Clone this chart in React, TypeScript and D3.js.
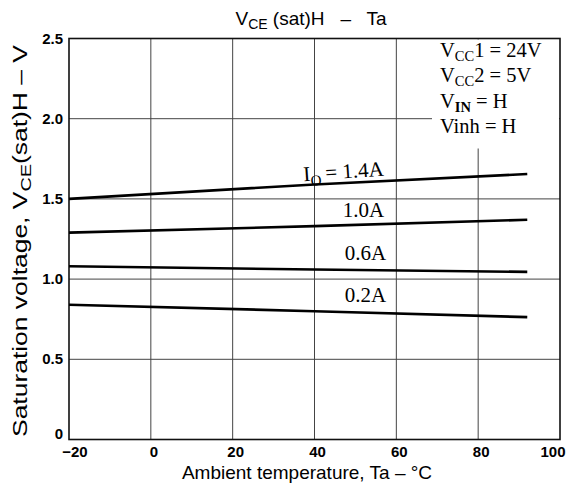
import React from "react";
import * as d3 from "d3";

const xTicks = [-20, 0, 20, 40, 60, 80, 100];
const yTicks = [0, 0.5, 1.0, 1.5, 2.0, 2.5];
const yTickLabels = ["0", "0.5", "1.0", "1.5", "2.0", "2.5"];

const temps = [-20, 40, 92];
const s14 = [1.5, 1.59, 1.655];
const s10 = [1.29, 1.33, 1.37];
const s06 = [1.08, 1.06, 1.045];
const s02 = [0.84, 0.8, 0.763];

const seriesLabels = ["1.4A", "1.0A", "0.6A", "0.2A"];
const labelAt = [
  { t: 57, v: 1.645 },
  { t: 57, v: 1.39 },
  { t: 57.5, v: 1.12 },
  { t: 57.5, v: 0.855 },
];

const legendLines = [
  { main: "V", sub: "CC", rest: "1 = 24V", bold: false },
  { main: "V", sub: "CC", rest: "2 = 5V", bold: false },
  { main: "V", sub: "IN", rest: " = H", bold: true },
  { main: "Vinh", sub: "", rest: " = H", bold: false },
];

export default function App() {
  const left = 69,
    right = 560,
    top = 38.5,
    bottom = 439.5;
  const x = d3.scaleLinear().domain([-20, 100]).range([left, right]);
  const y = d3.scaleLinear().domain([0, 2.5]).range([bottom, top]);
  const series = [s14, s10, s06, s02];
  const line = d3
    .line<number>()
    .x((_, i) => x(temps[i]))
    .y((d) => y(d));

  const sans = "'Liberation Sans', Arial, Helvetica, sans-serif";
  const serif = "'Liberation Serif', 'Times New Roman', serif";

  return (
    <div style={{ position: "absolute", left: 0, top: 0 }}>
      <svg width={573} height={488} style={{ display: "block", background: "#fff" }}>
        <rect width={573} height={488} fill="#fff" />
        {/* grid */}
        {xTicks.slice(1, -1).map((t) => (
          <line key={"gx" + t} x1={x(t)} x2={x(t)} y1={top} y2={bottom} stroke="#444" strokeWidth={1} />
        ))}
        {yTicks.slice(1, -1).map((v) => (
          <line key={"gy" + v} x1={left} x2={right} y1={y(v)} y2={y(v)} stroke="#444" strokeWidth={1} />
        ))}
        {/* legend box background */}
        <rect x={432} y={top + 1} width={right - 433} height={109} fill="#fff" />
        {/* frame */}
        <rect x={left} y={top} width={right - left} height={bottom - top} fill="none" stroke="#111" strokeWidth={1.6} />
        {/* series */}
        {series.map((s, i) => (
          <path key={"s" + i} d={line(s) || ""} fill="none" stroke="#000" strokeWidth={2.6} />
        ))}
        {/* series labels */}
        {seriesLabels.map((lab, i) =>
          i === 0 ? (
            <text
              key={"l" + i}
              x={x(labelAt[i].t)}
              y={y(labelAt[i].v)}
              fontFamily={serif}
              fontSize={21}
              textAnchor="end"
              transform={`rotate(-4 ${x(labelAt[i].t)} ${y(labelAt[i].v)})`}
            >
              I<tspan fontSize={15} dy={5}>O</tspan>
              <tspan dy={-5}>{"\u2009= " + lab}</tspan>
            </text>
          ) : (
            <text key={"l" + i} x={x(labelAt[i].t)} y={y(labelAt[i].v)} fontFamily={serif} fontSize={21} textAnchor="end">
              {lab}
            </text>
          )
        )}
        {/* legend */}
        {legendLines.map((l, i) => (
          <text key={"lg" + i} x={440} y={57 + i * 25.3} fontFamily={serif} fontSize={20.5}>
            {l.main}
            {l.sub && (
              <tspan fontSize={14.5} dy={4} fontWeight={l.bold ? "bold" : "normal"}>
                {l.sub}
              </tspan>
            )}
            <tspan dy={l.sub ? -4 : 0}>{l.rest}</tspan>
          </text>
        ))}
        {/* y tick labels */}
        {yTicks.map((v, i) => (
          <text
            key={"yt" + v}
            x={63}
            y={v === 0 ? y(v) - 1 : y(v) + 5}
            fontFamily={sans}
            fontSize={15}
            fontWeight="bold"
            textAnchor="end"
          >
            {yTickLabels[i]}
          </text>
        ))}
        {/* x tick labels */}
        {xTicks.map((t, i) => (
          <text
            key={"xt" + t}
            x={x(t) + (i === 0 ? 6 : i === xTicks.length - 1 ? -7 : 3)}
            y={457}
            fontFamily={sans}
            fontSize={15}
            fontWeight="bold"
            textAnchor="middle"
          >
            {t < 0 ? "\u2212" + Math.abs(t) : String(t)}
          </text>
        ))}
        {/* title */}
        <text x={311} y={25} fontFamily={sans} fontSize={19} textAnchor="middle">
          V<tspan fontSize={14} dy={4}>CE</tspan>
          <tspan dy={-4}>{" (sat)H \u00a0\u00a0\u2013\u00a0\u00a0 Ta"}</tspan>
        </text>
        {/* x title */}
        <text x={307} y={479} fontFamily={sans} fontSize={19} textAnchor="middle">
          Ambient temperature, Ta – °C
        </text>
        {/* y title */}
        <text
          transform="translate(27,241) rotate(-90)"
          fontFamily={sans}
          fontSize={20}
          textAnchor="middle"
          textLength={392}
          lengthAdjust="spacingAndGlyphs"
        >
          Saturation voltage, V<tspan fontSize={15} dy={4}>CE</tspan>
          <tspan dy={-4}>(sat)H – V</tspan>
        </text>
      </svg>
    </div>
  );
}
